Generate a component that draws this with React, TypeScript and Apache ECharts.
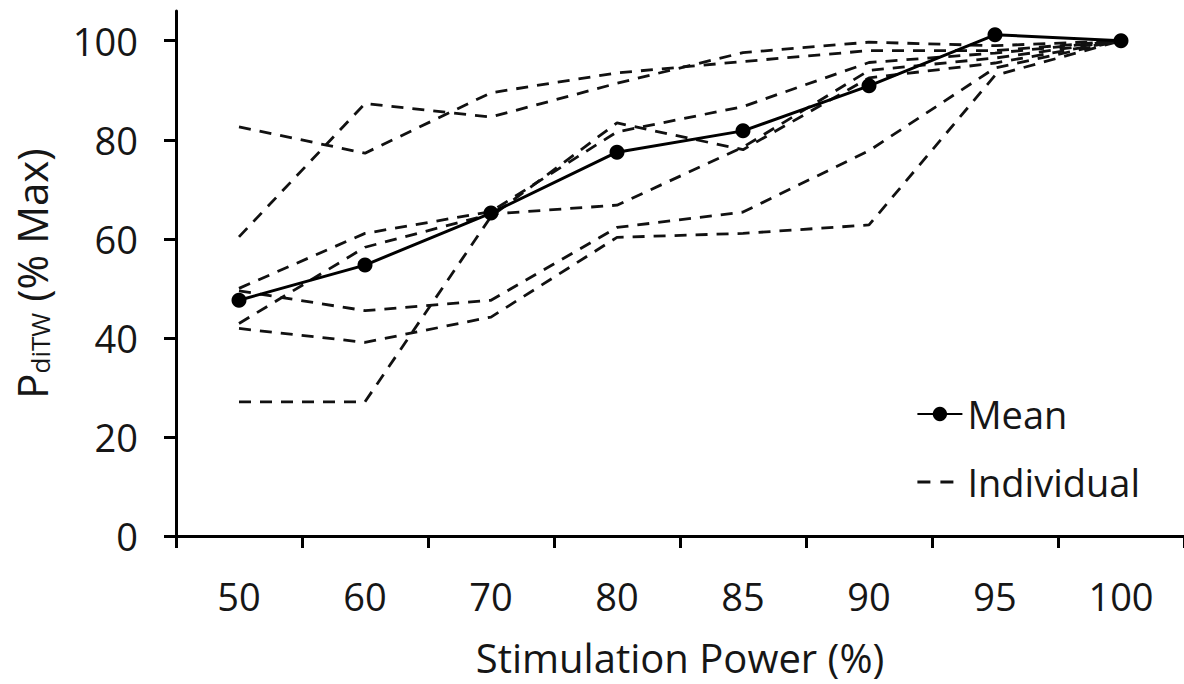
import React, { useEffect, useRef } from 'react';
import * as echarts from 'echarts';

const categories = ['50', '60', '70', '80', '85', '90', '95', '100'];
const meanValues = [47.6, 54.7, 65.2, 77.5, 81.8, 90.9, 101.2, 100];
const individualA = [82.6, 77.3, 89.5, 93.5, 95.8, 98.0, 98.0, 100];
const individualB = [60.4, 87.3, 84.6, 91.4, 97.6, 99.7, 99.0, 100];
const individualC = [50.0, 61.1, 65.5, 81.6, 86.7, 95.6, 97.5, 100];
const individualD = [42.9, 58.3, 65.0, 66.8, 78.5, 94.0, 96.5, 100];
const individualE = [49.5, 45.5, 47.6, 62.3, 65.4, 77.8, 94.5, 100];
const individualF = [41.9, 39.1, 44.2, 60.3, 61.1, 62.8, 93.0, 100];
const individualG = [27.1, 27.1, 64.5, 83.4, 78.0, 92.5, 95.5, 100];
const individuals = [individualA, individualB, individualC, individualD, individualE, individualF, individualG];
const yTicks = [0, 20, 40, 60, 80, 100];

const FONT = 'Open Sans';
const TXT = '#161616';

export default function App() {
  const ref = useRef<HTMLDivElement>(null);
  useEffect(() => {
    if (!ref.current) return;
    const chart = echarts.init(ref.current, null, { renderer: 'svg' });
    const dashedSeries = individuals.map((d) => ({
      name: 'Individual',
      type: 'line',
      data: d,
      symbol: 'none',
      lineStyle: { color: '#111', width: 2.8, type: [12, 9] },
      itemStyle: { color: '#111' },
      z: 2,
    }));
    chart.setOption({
      animation: false,
      textStyle: { fontFamily: FONT },
      grid: { left: 176, right: 0, top: 11, bottom: 148 },
      legend: {
        data: [
          { name: 'Mean' },
          {
            name: 'Individual',
            itemStyle: { opacity: 0 },
            lineStyle: { type: [13, 10, 13, 100], width: 2.8, color: '#111' },
          },
        ],
        orient: 'vertical',
        left: 911,
        top: 390,
        itemWidth: 45,
        itemHeight: 18,
        itemGap: 30,
        textStyle: { fontSize: 38, color: TXT, fontFamily: FONT },
      },
      xAxis: {
        type: 'category',
        data: categories,
        boundaryGap: true,
        axisLine: { lineStyle: { color: '#000', width: 3 } },
        axisTick: { show: true, length: 12, lineStyle: { color: '#000', width: 3 } },
        axisLabel: { fontSize: 38, color: TXT, margin: 41, fontFamily: FONT },
        name: 'Stimulation Power (%)',
        nameLocation: 'middle',
        nameGap: 101,
        nameTextStyle: { fontSize: 40, color: TXT, fontFamily: FONT },
      },
      yAxis: {
        type: 'value',
        min: 0,
        max: 106,
        interval: 20,
        splitLine: { show: false },
        axisLine: { show: true, lineStyle: { color: '#000', width: 3 } },
        axisTick: { show: true, length: 12, customValues: yTicks, lineStyle: { color: '#000', width: 3 } },
        axisLabel: { fontSize: 38, color: TXT, margin: 38, customValues: yTicks, fontFamily: FONT },
        name: '{p|P}{sub|diTW}{p| (% Max)}',
        nameLocation: 'middle',
        nameGap: 123,
        nameTextStyle: {
          color: TXT,
          fontFamily: FONT,
          rich: {
            p: { fontSize: 42, color: TXT, fontFamily: FONT },
            sub: { fontSize: 26, color: TXT, fontFamily: FONT, padding: [17, 0, 0, 0] },
          },
        },
      },
      series: [
        ...dashedSeries,
        {
          name: 'Mean',
          type: 'line',
          data: meanValues,
          symbol: 'circle',
          symbolSize: 15,
          lineStyle: { color: '#000', width: 3 },
          itemStyle: { color: '#000' },
          z: 5,
        },
      ],
    });
    return () => chart.dispose();
  }, []);
  return <div ref={ref} style={{ position: 'fixed', left: 0, top: 0, width: 1184, height: 684, background: '#fff' }} />;
}
